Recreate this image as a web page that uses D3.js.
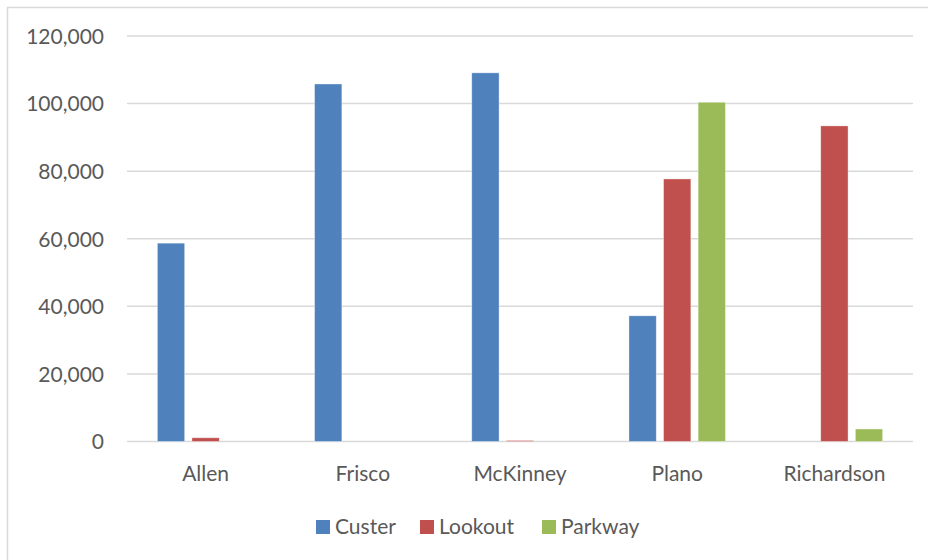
<!DOCTYPE html>
<html>
<head>
<meta charset="utf-8">
<script src="https://cdn.jsdelivr.net/npm/d3@7"></script>
<style>
  html, body { margin: 0; padding: 0; background: #fff; }
  svg { display: block; }
  text { font-family: Lato, "Open Sans", sans-serif; fill: #595959; }
</style>
</head>
<body>
<svg id="chart" width="928" height="560"></svg>
<script>
// Sites per city
const cities = ["Allen", "Frisco", "McKinney", "Plano", "Richardson"];
const seriesNames = ["Custer", "Lookout", "Parkway"];
const custer  = [58700, 105800, 109100, 37200, 0];
const lookout = [1100, 0, 300, 77700, 93400];
const parkway = [0, 0, 0, 100400, 3700];
const yTicks = [0, 20000, 40000, 60000, 80000, 100000, 120000];
const colors = ["#4F81BD", "#C0504D", "#9BBB59"];

const seriesValues = [custer, lookout, parkway];

const svg = d3.select("#chart");
const plot = { left: 127, right: 913, top: 36, bottom: 441.5 };
const fontSize = 21;

// chart frame
svg.append("rect")
  .attr("x", 7.5).attr("y", 7.5)
  .attr("width", 940).attr("height", 580)
  .attr("fill", "#fff")
  .attr("stroke", "#d9d9d9").attr("stroke-width", 1.5);

const x0 = d3.scaleBand().domain(cities).range([plot.left, plot.right]).paddingInner(0).paddingOuter(0);
const groupWidth = 96.5;
const x1 = d3.scaleBand().domain(seriesNames)
  .range([0, groupWidth]).paddingInner(0.21).paddingOuter(0);
const y = d3.scaleLinear().domain([0, 120000]).range([plot.bottom, plot.top]);

// gridlines
svg.append("g").selectAll("line").data(yTicks).join("line")
  .attr("x1", plot.left).attr("x2", plot.right)
  .attr("y1", d => y(d)).attr("y2", d => y(d))
  .attr("stroke", "#d9d9d9").attr("stroke-width", 1.5);

// y axis labels
const yAxis = d3.axisLeft(y).tickValues(yTicks).tickSize(0).tickPadding(0)
  .tickFormat(d3.format(","));
const yg = svg.append("g").attr("transform", `translate(${plot.left - 23},0)`).call(yAxis);
yg.select(".domain").remove();
yg.selectAll("text").attr("font-size", fontSize).attr("dy", "0.35em")
  .style("font-family", "Lato, sans-serif").attr("fill", "#595959");

// x axis labels
const xAxis = d3.axisBottom(x0).tickSize(0).tickPadding(0);
const xg = svg.append("g").attr("transform", `translate(0,${plot.bottom + 39.5})`).call(xAxis);
xg.select(".domain").remove();
xg.selectAll("text").attr("font-size", fontSize).attr("dy", 0)
  .style("font-family", "Lato, sans-serif").attr("fill", "#595959");

// bars
const rows = cities.map((c, i) => ({ city: c, vals: seriesNames.map((s, j) => ({ s, j, v: seriesValues[j][i] })) }));
const groups = svg.append("g").selectAll("g").data(rows).join("g")
  .attr("transform", d => `translate(${x0(d.city) + (x0.bandwidth() - groupWidth) / 2},0)`);
groups.selectAll("rect").data(d => d.vals.filter(e => e.v > 0)).join("rect")
  .attr("x", d => x1(d.s))
  .attr("width", x1.bandwidth())
  .attr("y", d => y(d.v))
  .attr("height", d => y(0) - y(d.v))
  .attr("fill", d => colors[d.j])
  .attr("stroke", "#ffffff").attr("stroke-opacity", 0.5).attr("stroke-width", 0.75);

// legend
const legendX = [316, 420, 542];
const legend = svg.append("g").selectAll("g").data(seriesNames).join("g")
  .attr("transform", (d, i) => `translate(${legendX[i]},520)`);
legend.append("rect").attr("width", 14).attr("height", 14).attr("fill", (d, i) => colors[i]);
legend.append("text").attr("x", 19).attr("y", 14).attr("font-size", fontSize).text(d => d);
</script>
</body>
</html>
